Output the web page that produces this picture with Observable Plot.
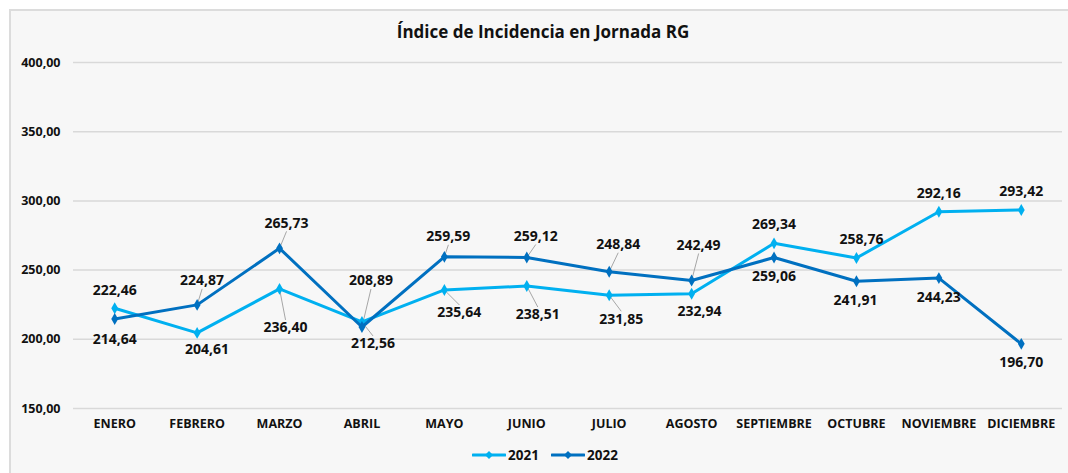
<!DOCTYPE html>
<html>
<head>
<meta charset="utf-8">
<script src="https://cdn.jsdelivr.net/npm/d3@7"></script>
<script src="https://cdn.jsdelivr.net/npm/@observablehq/plot@0.6"></script>
<style>
  html, body { margin: 0; padding: 0; background: #ffffff; width: 1068px; height: 473px; overflow: hidden; font-family: "Open Sans", sans-serif; }
  #panel { position: absolute; left: 9px; top: 9px; width: 1070px; height: 470px; background: #f7f7f7; border-left: 2px solid #dcdcdc; border-top: 2px solid #dcdcdc; }
  #title { position: absolute; left: 0; width: 1086px; top: 20px; text-align: center; font-size: 17px; font-weight: 700; color: #111; }
  #chart { position: absolute; left: 0; top: 0; }
  #legend { position: absolute; top: 446px; left: 0; width: 1090px; display: flex; justify-content: center; align-items: center; font-size: 13.5px; font-weight: 700; color: #111; gap: 12px; }
  .item { display: flex; align-items: center; gap: 2px; }
</style>
</head>
<body>
<div id="panel"></div>
<div id="title">Índice de Incidencia en Jornada RG</div>
<div id="chart"></div>
<div id="legend"></div>
<script>
const months = ["ENERO","FEBRERO","MARZO","ABRIL","MAYO","JUNIO","JULIO","AGOSTO","SEPTIEMBRE","OCTUBRE","NOVIEMBRE","DICIEMBRE"];
const series = ["2021", "2022"];
const v2021 = [222.46, 204.61, 236.40, 212.56, 235.64, 238.51, 231.85, 232.94, 269.34, 258.76, 292.16, 293.42];
const v2022 = [214.64, 224.87, 265.73, 208.89, 259.59, 259.12, 248.84, 242.49, 259.06, 241.91, 244.23, 196.70];
const yTicks = [150, 200, 250, 300, 350, 400];

// label placement (pixel offsets from point to label centre, leader line flag)
const lab2021 = [[0,-18,0],[10,17,0],[6,39,1],[11,22,1],[15,23,1],[11,29,1],[12,24,1],[8,18,0],[0,-19,0],[5,-18,0],[0,-18,0],[0,-18,0]];
const lab2022 = [[0,20,0],[5,-24,1],[7,-25,1],[9,-46,1],[4,-20,1],[9,-21,1],[9,-27,1],[7,-35,1],[0,19,0],[-1,19,0],[0,19,0],[0,19,0]];

const colors = {"2021": "#00b0f0", "2022": "#0070c0"};

const W = 1068, H = 440, mL = 73, mR = 6, mT = 62, mB = 32;
const kx = (W - mL - mR) / 12;
const ky = (H - mT - mB) / 250;
const fmt = d => d.toFixed(2).replace(".", ",");

const rows = [];
months.forEach((m, i) => {
  rows.push({i, s: "2021", v: v2021[i], L: lab2021[i]});
});
months.forEach((m, i) => {
  rows.push({i, s: "2022", v: v2022[i], L: lab2022[i]});
});
const leaders = rows.filter(d => d.L[2]);

const marks = [
  Plot.ruleY(yTicks, {stroke: "#d9d9d9", strokeWidth: 1.5}),
  Plot.axisY(yTicks, {label: null, tickSize: 0, tickPadding: 13, tickFormat: fmt, fontSize: 12.5, fontWeight: 700, fill: "#111"}),
  Plot.axisX(d3.range(12), {label: null, tickSize: 0, tickPadding: 11, tickFormat: i => months[i], fontSize: 12.5, fontWeight: 700, fill: "#111"}),
  Plot.link(leaders, {
    x1: d => d.i, y1: d => d.v,
    x2: d => d.i + d.L[0] / kx,
    y2: d => d.v - (d.L[1] - Math.sign(d.L[1]) * 8) / ky,
    stroke: "#a6a6a6", strokeWidth: 1
  })
];
for (const s of series) {
  const data = rows.filter(d => d.s === s);
  marks.push(Plot.line(data, {x: "i", y: "v", stroke: colors[s], strokeWidth: 3}));
  marks.push(Plot.dot(data, {x: "i", y: "v", symbol: "diamond", r: 3.6, fill: colors[s], stroke: "none"}));
}
marks.push(Plot.text(rows, {
  x: d => d.i + d.L[0] / kx,
  y: d => d.v - d.L[1] / ky,
  text: d => fmt(d.v),
  fontSize: 14, fontWeight: 700, fill: "#111"
}));

const chart = Plot.plot({
  width: W, height: H,
  marginLeft: mL, marginRight: mR, marginTop: mT, marginBottom: mB,
  style: {background: "transparent", fontFamily: "'Open Sans', sans-serif", overflow: "visible"},
  x: {type: "linear", domain: [-0.5, 11.5], axis: null},
  y: {domain: [150, 400], axis: null},
  marks
});
document.getElementById("chart").appendChild(chart);

const legend = document.getElementById("legend");
for (const s of series) {
  const item = document.createElement("div");
  item.className = "item";
  item.innerHTML = `<svg width="34" height="10"><line x1="1" x2="33" y1="5" y2="5" stroke="${colors[s]}" stroke-width="3" stroke-linecap="round"/><path d="M17,1 L21,5 L17,9 L13,5 Z" fill="${colors[s]}"/></svg><span>${s}</span>`;
  legend.appendChild(item);
}
</script>
</body>
</html>
